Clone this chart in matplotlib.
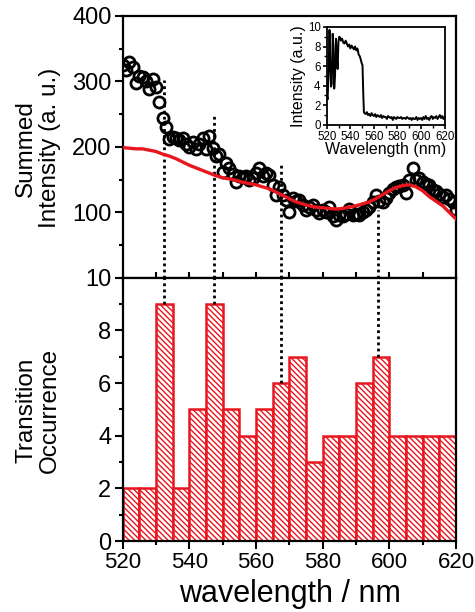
import numpy as np
import matplotlib.pyplot as plt
from matplotlib.ticker import MultipleLocator

plt.rcParams['font.family'] = ['Liberation Sans', 'DejaVu Sans']
plt.rcParams['hatch.linewidth'] = 1.0

# summed intensity (open circles), 1 nm steps
wl = np.arange(520, 621, 1)
summed = [325, 318, 330, 322, 298, 308, 306, 300, 288, 304,
          292, 268, 244, 230, 212, 215, 214, 210, 213, 205,
          200, 208, 196, 204, 214, 197, 216, 198, 186, 189,
          162, 175, 168, 158, 146, 155, 154, 155, 150, 152,
          160, 167, 155, 160, 157, 142, 127, 139, 126, 119,
          100, 122, 118, 119, 111, 103, 108, 111, 104, 99,
          104, 100, 108, 94, 89, 96, 94, 98, 105, 96,
          97, 96, 100, 104, 108, 116, 127, 118, 116, 122,
          129, 135, 139, 140, 142, 130, 150, 167, 150, 152,
          147, 143, 142, 134, 132, 128, 124, 127, 120, 116, 104]

# reference spectrum (red line)
ref_wl = [520, 522, 524, 526, 528, 530, 532, 534, 536, 538, 540, 542, 544, 546,
          548, 550, 552, 554, 556, 558, 560, 562, 564, 566, 568, 570, 572, 574,
          576, 578, 580, 582, 584, 586, 588, 590, 592, 594, 596, 598, 600, 602,
          604, 606, 608, 610, 612, 614, 616, 618, 620]
ref_int = [199, 198, 197, 197, 195, 193, 189, 186, 182, 177, 172, 168, 164, 160,
           156, 153, 151, 149, 146, 144, 142, 139, 136, 131, 126, 121, 116, 113,
           110, 108, 107, 106, 105, 106, 108, 110, 113, 116, 121, 127, 133, 138,
           141, 142, 139, 133, 124, 117, 110, 100, 90]

# transition histogram, 5 nm bins
bin_left = np.arange(520, 620, 5)
counts = [2, 2, 9, 2, 5, 9, 5, 4, 5, 6, 7, 3, 4, 4, 6, 7, 4, 4, 4, 4]

# dotted guides: wavelength, top in summed intensity, bottom in counts
guide_wl = [532.5, 547.5, 567.5, 596.5]
guide_top = [302, 249, 175, 104]
guide_bottom = [9, 9, 6, 7]

# inset excitation spectrum
inset_wl = [520, 520.7, 521.5, 522.3, 523, 523.6, 524.2, 525, 525.6, 526.3,
            527, 527.8, 528.5, 529.2, 529.9, 530.6, 531.3, 532, 533, 534,
            535, 536, 537, 538, 539, 540, 541, 542, 543, 544,
            545, 546, 547, 548, 549, 549.6, 550.3, 551, 551.5, 552,
            553, 554, 555, 556, 557, 558, 559, 560, 561, 562,
            563, 564, 565, 566, 567, 568, 569, 570, 571, 572,
            573, 574, 575, 576, 577, 578, 579, 580, 581, 582,
            583, 584, 585, 586, 587, 588, 589, 590, 591, 592,
            593, 594, 595, 596, 597, 598, 599, 600, 601, 602,
            603, 604, 605, 606, 607, 608, 609, 610, 611, 612,
            613, 614, 615, 616, 617, 618, 619, 620]
inset_int = [3.0, 2.6, 5.5, 9.7, 6.0, 3.9, 4.2, 9.3, 8.0, 3.7,
             5.0, 8.8, 7.0, 5.7, 8.5, 9.0, 8.9, 8.6, 8.8, 8.4,
             8.3, 8.6, 8.3, 8.0, 8.2, 7.8, 8.1, 7.9, 7.7, 8.0,
             7.6, 7.8, 7.2, 7.0, 6.6, 6.3, 6.1, 3.0, 1.3, 1.2,
             1.1, 1.3, 1.0, 1.1, 0.9, 1.2, 1.0, 0.9, 1.1, 0.8,
             1.0, 0.9, 0.8, 1.0, 0.7, 0.9, 0.8, 0.8, 0.6, 0.9,
             0.8, 0.7, 0.8, 0.5, 0.8, 0.7, 0.6, 0.8, 0.7, 0.7,
             0.8, 0.6, 0.7, 0.7, 0.6, 0.8, 0.7, 0.6, 0.7, 0.5,
             0.7, 0.6, 0.6, 0.8, 0.5, 0.7, 0.6, 0.7, 0.5, 0.8,
             0.6, 0.9, 0.6, 0.7, 0.5, 0.8, 0.9, 0.6, 0.8, 0.7,
             0.9, 0.6, 0.8, 1.0, 0.7, 0.9, 0.6, 0.8]

red = '#e8161e'

fig = plt.figure(figsize=(4.75, 6.12), dpi=100)
ax1 = fig.add_axes([0.258, 0.546, 0.702, 0.428])
ax2 = fig.add_axes([0.258, 0.116, 0.702, 0.430])

# upper panel
ax1.plot(wl, summed, 'o', mfc='none', mec='black', ms=8, mew=2, zorder=3)
ax1.plot(ref_wl, ref_int, '-', color=red, lw=2.4, zorder=4)
for x, top in zip(guide_wl, guide_top):
    ax1.plot([x, x], [0, top], color='black', ls=(0, (1, 1.2)), lw=2, zorder=2)
ax1.set_xlim(520, 620)
ax1.set_ylim(0, 400)
ax1.set_yticks([100, 200, 300, 400])
ax1.yaxis.set_minor_locator(MultipleLocator(50))
ax1.xaxis.set_major_locator(MultipleLocator(20))
ax1.xaxis.set_minor_locator(MultipleLocator(10))
ax1.tick_params(axis='x', which='major', direction='inout', length=9, width=1.5, labelbottom=False)
ax1.tick_params(axis='x', which='minor', direction='in', length=4, width=1.5)
ax1.tick_params(axis='y', which='major', direction='out', length=6, width=1.5, labelsize=17, pad=2)
ax1.tick_params(axis='y', which='minor', direction='out', length=3, width=1.5)

# lower panel
ax2.bar(bin_left, counts, width=5, align='edge', color='white', edgecolor=red,
        linewidth=1.8, hatch='\\\\\\\\\\\\', zorder=2)
for x, bot in zip(guide_wl, guide_bottom):
    ax2.plot([x, x], [bot, 10], color='black', ls=(0, (1, 1.2)), lw=2, zorder=3)
ax2.set_xlim(520, 620)
ax2.set_ylim(0, 10)
ax2.set_yticks([0, 2, 4, 6, 8, 10])
ax2.yaxis.set_minor_locator(MultipleLocator(1))
ax2.xaxis.set_major_locator(MultipleLocator(20))
ax2.xaxis.set_minor_locator(MultipleLocator(10))
ax2.tick_params(which='major', direction='out', length=6, width=1.5, labelsize=17, pad=2)
ax2.tick_params(axis='x', which='major', labelsize=16)
ax2.tick_params(which='minor', direction='out', length=3, width=1.5)

for ax in (ax1, ax2):
    for s in ax.spines.values():
        s.set_linewidth(1.6)

fig.text(0.08, 0.758, 'Summed\nIntensity (a. u.)', rotation=90, ha='center',
         va='center', fontsize=17.5, linespacing=1.1, multialignment='center')
fig.text(0.08, 0.33, 'Transition\nOccurrence', rotation=90, ha='center',
         va='center', fontsize=17.5, linespacing=1.1, multialignment='center')
fig.text(0.61, 0.03, 'wavelength / nm', ha='center', va='center', fontsize=22)

# inset
axi = fig.add_axes([0.688, 0.796, 0.248, 0.160])
axi.plot(inset_wl, inset_int, color='black', lw=1.4)
axi.set_xlim(520, 620)
axi.set_ylim(0, 10)
axi.set_xticks(np.arange(520, 621, 20))
axi.set_yticks(np.arange(0, 11, 2))
axi.xaxis.set_minor_locator(MultipleLocator(10))
axi.yaxis.set_minor_locator(MultipleLocator(1))
axi.tick_params(which='major', direction='out', length=3, width=1.2, labelsize=8.3, pad=1.5)
axi.tick_params(which='minor', direction='out', length=2, width=1.0)
for s in axi.spines.values():
    s.set_linewidth(1.3)
axi.set_xlabel('Wavelength (nm)', fontsize=11.5, labelpad=-1)
axi.set_ylabel('Intensity (a.u.)', fontsize=11.5, labelpad=1)

fig.savefig('out.png', dpi=100)
